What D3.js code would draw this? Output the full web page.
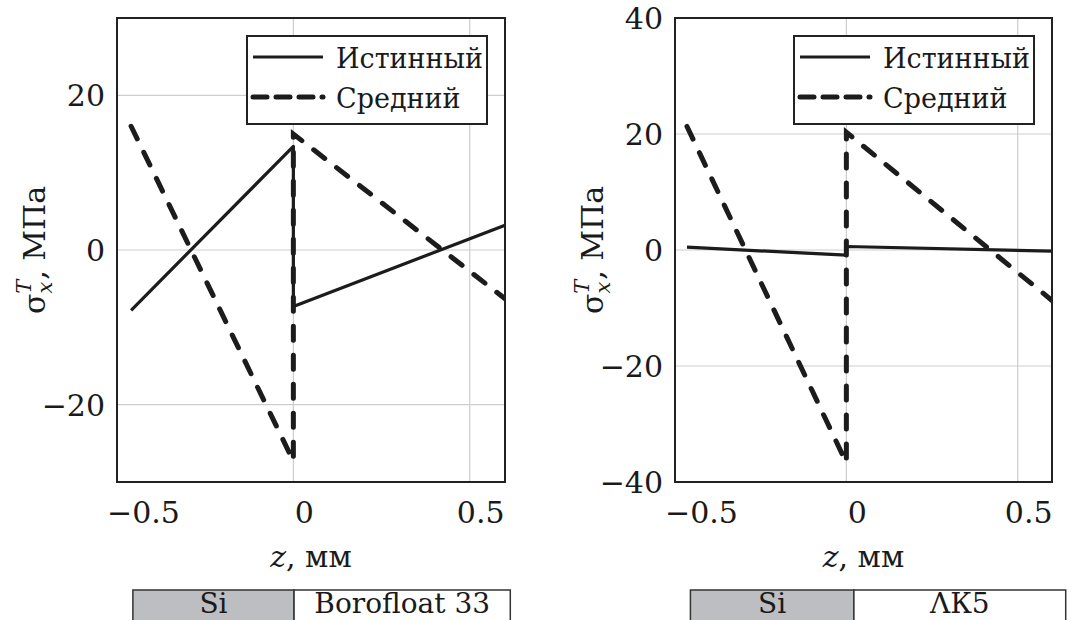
<!DOCTYPE html>
<html>
<head>
<meta charset="utf-8">
<script src="https://cdn.jsdelivr.net/npm/d3@7/dist/d3.min.js"></script>
<style>
  body { margin: 0; background: #fff; }
  svg text { font-family: "DejaVu Serif", serif; fill: #1a1a1a; }
</style>
</head>
<body>
<div id="chart"></div>
<script>
// ---- data ----
// x axis (z, mm) and its ticks
var xTicks = [-0.5, 0, 0.5];
var xTickLabels = ["\u22120.5", "0", "0.5"];

// left panel: Si | Borofloat 33
var bfYTicks = [-20, 0, 20];
var bfTrueZ = [-0.46, 0, 0, 0.6];
var bfTrueS = [-7.8, 13.4, -7.3, 3.2];
var bfMeanZ = [-0.46, 0, 0, 0.6];
var bfMeanS = [16.0, -27.3, 15.0, -6.3];
var bfLayers = ["Si", "Borofloat 33"];
var bfLayerEdges = [-0.455, 0.002, 0.615];

// right panel: Si | ЛК5
var lkYTicks = [-40, -20, 0, 20, 40];
var lkTrueZ = [-0.465, 0, 0, 0.6];
var lkTrueS = [0.5, -0.9, 0.6, -0.2];
var lkMeanZ = [-0.465, 0, 0, 0.6];
var lkMeanS = [21.3, -36.7, 20.3, -8.7];
var lkLayers = ["Si", "\u039bК5"];
var lkLayerEdges = [-0.455, 0.022, 0.64];

var seriesNames = ["Истинный", "Средний"];

var W = 1076, H = 620;
var svg = d3.select("#chart").append("svg")
    .attr("width", W)
    .attr("height", H);

function zip(zs, ss) {
    return zs.map(function(z, i){ return {z: z, s: ss[i]}; });
}

/**
 * Draws one panel
 */
function drawPanel(cfg, idx) {
    var g = svg.append("g");

    var x = d3.scaleLinear().domain([-0.5, 0.6]).range([cfg.left, cfg.right]);
    var y = d3.scaleLinear().domain(cfg.yDomain).range([cfg.bottom, cfg.top]);

    //grid
    g.selectAll(".vgrid").data(xTicks.filter(function(d){ return d > -0.5; }))
        .enter().append("line")
        .attr("x1", function(d){ return x(d); })
        .attr("x2", function(d){ return x(d); })
        .attr("y1", cfg.top).attr("y2", cfg.bottom)
        .attr("stroke", "#cdcdcd").attr("stroke-width", 1.2);
    g.selectAll(".hgrid").data(cfg.yTicks)
        .enter().append("line")
        .attr("x1", cfg.left).attr("x2", cfg.right)
        .attr("y1", function(d){ return y(d); })
        .attr("y2", function(d){ return y(d); })
        .attr("stroke", "#cdcdcd").attr("stroke-width", 1.2);

    //lines
    var clipId = "clip" + idx;
    svg.append("clipPath").attr("id", clipId)
        .append("rect")
        .attr("x", cfg.left).attr("y", cfg.top)
        .attr("width", cfg.right - cfg.left)
        .attr("height", cfg.bottom - cfg.top);

    var line = d3.line()
        .x(function(d){ return x(d.z); })
        .y(function(d){ return y(d.s); });

    var lines = g.append("g").attr("clip-path", "url(#" + clipId + ")");
    lines.append("path")
        .datum(zip(cfg.trueZ, cfg.trueS))
        .attr("d", line)
        .attr("fill", "none")
        .attr("stroke", "#1c1c1c")
        .attr("stroke-width", 3.2)
        .attr("stroke-linejoin", "round");
    lines.append("path")
        .datum(zip(cfg.meanZ, cfg.meanS))
        .attr("d", line)
        .attr("fill", "none")
        .attr("stroke", "#1c1c1c")
        .attr("stroke-width", 5)
        .attr("stroke-linecap", "round")
        .attr("stroke-dasharray", "14 15");

    //frame
    g.append("rect")
        .attr("x", cfg.left).attr("y", cfg.top)
        .attr("width", cfg.right - cfg.left)
        .attr("height", cfg.bottom - cfg.top)
        .attr("fill", "none")
        .attr("stroke", "#222")
        .attr("stroke-width", 2);

    //tick labels
    g.selectAll(".xtick").data(xTicks)
        .enter().append("text")
        .attr("x", function(d, i){ return i == 0 ? cfg.left - 10 : x(d) + 11; })
        .attr("y", cfg.bottom + 41)
        .style("text-anchor", function(d, i){ return i == 0 ? "start" : "middle"; })
        .style("font-size", "30px")
        .text(function(d, i){ return xTickLabels[i]; });

    g.selectAll(".ytick").data(cfg.yTicks)
        .enter().append("text")
        .attr("x", cfg.left - 12)
        .attr("y", function(d){ return y(d) + 11; })
        .style("text-anchor", "end")
        .style("font-size", "30px")
        .text(function(d){ return d < 0 ? "\u2212" + Math.abs(d) : d; });

    //axis titles
    var xl = g.append("text")
        .attr("x", (cfg.left + cfg.right) / 2)
        .attr("y", cfg.bottom + 85)
        .style("text-anchor", "middle")
        .style("font-size", "30px");
    xl.append("tspan").style("font-style", "italic").text("z");
    xl.append("tspan").text(", мм");

    var yl = g.append("text")
        .attr("transform", "translate(" + (cfg.left - 72) + "," + ((cfg.top + cfg.bottom) / 2) + ") rotate(-90)")
        .style("text-anchor", "middle")
        .style("font-size", "30px");
    yl.append("tspan").text("σ");
    yl.append("tspan").attr("dy", 7).style("font-style", "italic").style("font-size", "21px").text("x");
    yl.append("tspan").attr("dx", -12).attr("dy", -21).style("font-style", "italic").style("font-size", "21px").text("T");
    yl.append("tspan").attr("dy", 14).text(", МПа");

    //legend
    var lw = 240, lh = 88;
    var lx = cfg.right - 18 - lw, ly = cfg.top + 18;
    var leg = g.append("g");
    leg.append("rect")
        .attr("x", lx).attr("y", ly)
        .attr("width", lw).attr("height", lh)
        .attr("fill", "#fff")
        .attr("stroke", "#222")
        .attr("stroke-width", 2);
    seriesNames.forEach(function(name, i){
        var ry = ly + 21 + i * 40;
        leg.append("line")
            .attr("x1", lx + 6).attr("x2", lx + 76)
            .attr("y1", ry).attr("y2", ry)
            .attr("stroke", "#1c1c1c")
            .attr("stroke-width", i == 0 ? 3.2 : 5)
            .attr("stroke-linecap", i == 0 ? "butt" : "round")
            .attr("stroke-dasharray", i == 0 ? null : "14 9");
        leg.append("text")
            .attr("x", lx + 89)
            .attr("y", ry + 11)
            .style("font-size", "27px")
            .text(name);
    });

    //material strip under the x axis
    var strip = g.append("g");
    cfg.layers.forEach(function(name, i){
        var x0 = x(cfg.edges[i]), x1 = x(cfg.edges[i + 1]);
        strip.append("rect")
            .attr("x", x0).attr("y", 590)
            .attr("width", x1 - x0).attr("height", 45)
            .attr("fill", i == 0 ? "#bdbec1" : "#fff")
            .attr("stroke", "#333")
            .attr("stroke-width", 1.5);
        strip.append("text")
            .attr("x", (x0 + x1) / 2)
            .attr("y", 613)
            .style("text-anchor", "middle")
            .style("font-size", "28px")
            .text(name);
    });
}

drawPanel({
    left: 117, right: 505, top: 18, bottom: 482,
    yDomain: [-30, 30], yTicks: bfYTicks,
    trueZ: bfTrueZ, trueS: bfTrueS, meanZ: bfMeanZ, meanS: bfMeanS,
    layers: bfLayers, edges: bfLayerEdges
}, 0);

drawPanel({
    left: 675, right: 1052, top: 18, bottom: 482,
    yDomain: [-40, 40], yTicks: lkYTicks,
    trueZ: lkTrueZ, trueS: lkTrueS, meanZ: lkMeanZ, meanS: lkMeanS,
    layers: lkLayers, edges: lkLayerEdges
}, 1);
</script>
</body>
</html>
